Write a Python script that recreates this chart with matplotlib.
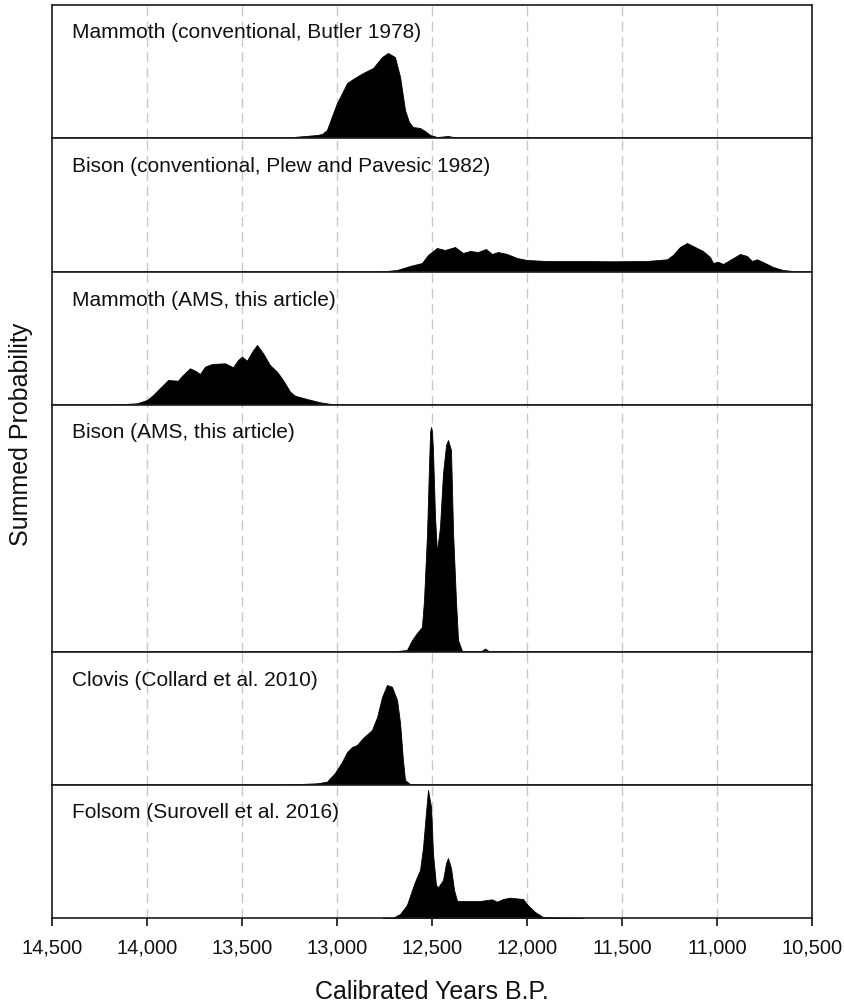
import matplotlib
matplotlib.use('Agg')
import matplotlib.pyplot as plt
from matplotlib.ticker import FuncFormatter, MultipleLocator

plt.rcParams['font.family'] = ['Liberation Sans', 'DejaVu Sans']

# ---------------- data (summed probability, relative units) ----------------
panel_labels = [
    "Mammoth (conventional, Butler 1978)",
    "Bison (conventional, Plew and Pavesic 1982)",
    "Mammoth (AMS, this article)",
    "Bison (AMS, this article)",
    "Clovis (Collard et al. 2010)",
    "Folsom (Surovell et al. 2016)",
]

mammoth_conv_years = [13540, 13263, 13105, 13079, 13053, 13026, 13000, 12968, 12947, 12916,
                      12863, 12810, 12763, 12732, 12695, 12668, 12642, 12621, 12600, 12563,
                      12537, 12510, 12474, 12442, 12416, 12379, 12300, 11774]
mammoth_conv_prob = [0, 0.5, 3, 4, 8, 22, 35, 47, 55, 59,
                     65, 70, 81, 85, 81, 61, 28, 16, 11, 10,
                     7, 3, 1, 1.5, 2, 0.7, 0.3, 0]

bison_conv_years = [12800, 12684, 12616, 12553, 12521, 12474, 12432, 12379, 12337, 12300,
                    12258, 12216, 12184, 12153, 12105, 12053, 12000, 11895, 11721, 11547,
                    11369, 11263, 11232, 11195, 11158, 11116, 11074, 11037, 11021, 10995,
                    10968, 10932, 10879, 10842, 10816, 10790, 10758, 10705, 10653, 10563, 10500]
bison_conv_prob = [0, 2, 6, 9, 17, 24, 22, 25, 19, 21,
                   20, 23, 18, 20, 18, 14, 12, 11, 11, 10.7,
                   11, 12.7, 17, 25, 29, 25, 21, 15, 9, 10.3,
                   8, 12, 18, 16, 11, 12.7, 10, 5, 2, 0.3, 0]

mammoth_ams_years = [14250, 14179, 14053, 14000, 13968, 13921, 13889, 13837, 13811, 13774,
                     13747, 13721, 13695, 13658, 13589, 13547, 13521, 13500, 13474, 13447,
                     13421, 13389, 13353, 13316, 13284, 13247, 13221, 13158, 13089, 13021, 12947]
mammoth_ams_prob = [0, 0.3, 1.7, 5, 10, 19, 25, 24.3, 30, 36.7,
                    34.3, 31, 38.3, 41, 41.7, 37.7, 45, 48.3, 44.3, 53.3,
                    60, 51.7, 40, 33.3, 25, 13.3, 9.3, 6, 2.7, 0.7, 0]

bison_ams_years = [12720, 12684, 12632, 12605, 12579, 12553, 12542, 12526, 12516, 12510,
                   12505, 12500, 12495, 12484, 12474, 12458, 12442, 12426, 12416, 12400,
                   12389, 12374, 12363, 12342, 12284, 12240, 12220, 12200, 12105, 12053]
bison_ams_prob = [0, 1, 2, 12, 19, 25, 52, 119, 185, 220,
                  225, 220, 202, 135, 100, 125, 179, 207, 212, 202,
                  119, 52, 12, 1, 0.5, 1, 3.5, 0.5, 1, 0]

clovis_years = [13400, 13284, 13105, 13053, 13011, 12974, 12947, 12921, 12895, 12863,
                12816, 12789, 12763, 12737, 12711, 12684, 12668, 12653, 12642, 12616,
                12547, 12450]
clovis_prob = [0, 0.3, 1.7, 3.3, 12, 23, 33, 38, 40, 47,
               55, 68, 88, 100, 98.3, 85, 62, 25, 5, 1,
               0.3, 0]

folsom_years = [12760, 12705, 12668, 12632, 12605, 12590, 12563, 12547, 12532, 12521,
                12505, 12495, 12479, 12468, 12442, 12426, 12416, 12400, 12384, 12368,
                12316, 12247, 12184, 12158, 12126, 12090, 12021, 11995, 11958, 11916,
                11811, 11705]
folsom_prob = [0, 0.3, 4, 13, 28, 36, 48, 71, 105, 128,
               111, 65, 33, 30.7, 38, 55, 60, 50, 28, 17,
               17, 17, 18.7, 16.3, 19, 20.3, 19, 12.7, 6, 1,
               0.3, 0]

series_years = [mammoth_conv_years, bison_conv_years, mammoth_ams_years,
                bison_ams_years, clovis_years, folsom_years]
series_prob = [mammoth_conv_prob, bison_conv_prob, mammoth_ams_prob,
               bison_ams_prob, clovis_prob, folsom_prob]

x_ticks = [14500, 14000, 13500, 13000, 12500, 12000, 11500, 11000, 10500]
grid_years = [14000, 13500, 13000, 12500, 12000, 11500, 11000]

# ---------------- layout ----------------
W, H = 844, 1006
panel_px = [133, 134, 133, 247, 133, 133]

fig = plt.figure(figsize=(W / 100, H / 100), dpi=100)
gs = fig.add_gridspec(6, 1, left=52 / W, right=812 / W, top=1 - 5 / H,
                      bottom=1 - 918 / H, height_ratios=panel_px, hspace=0)

axes = []
for i in range(6):
    ax = fig.add_subplot(gs[i], sharex=axes[0] if axes else None)
    axes.append(ax)
    ax.set_xlim(14500, 10500)
    ax.set_ylim(0, panel_px[i])
    for g in grid_years:
        ax.axvline(g, color='#c8c8c8', lw=1.0, dashes=(7, 4), zorder=0)
    ax.fill_between(series_years[i], 0, series_prob[i], facecolor='black',
                    edgecolor='black', lw=0.6, zorder=2)
    ax.set_yticks([])
    for s in ax.spines.values():
        s.set_linewidth(1.2)
        s.set_color('#1a1a1a')
        s.set_zorder(3)
    ax.text(20 / 760, 1 - 28 / panel_px[i], panel_labels[i], transform=ax.transAxes,
            fontsize=15, va='center', ha='left', color='#111111')
    if i < 5:
        ax.tick_params(axis='x', bottom=False, labelbottom=False)

ax = axes[-1]
ax.set_xticks(x_ticks)
ax.xaxis.set_major_formatter(FuncFormatter(lambda v, p: f"{int(round(v)):,}"))
ax.tick_params(axis='x', direction='out', length=6, width=1.2, pad=9,
               labelsize=14.5, colors='#111111')

fig.text(432 / W, 1 - 992 / H, "Calibrated Years B.P.", fontsize=18,
         ha='center', va='center', color='#111111')
fig.text(21 / W, 1 - 434 / H, "Summed Probability", fontsize=18, rotation=90,
         ha='center', va='center', color='#111111')

fig.savefig('out.png', dpi=100)
